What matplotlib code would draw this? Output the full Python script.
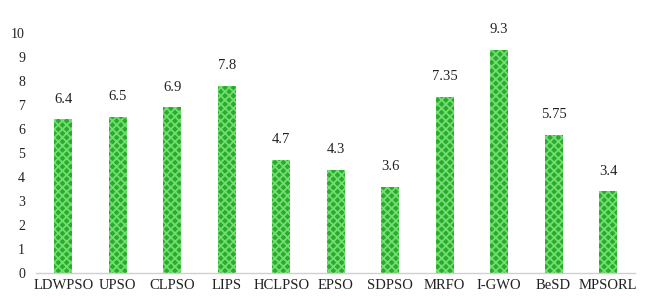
import matplotlib
matplotlib.use("Agg")
import matplotlib.pyplot as plt

categories = ["LDWPSO", "UPSO", "CLPSO", "LIPS", "HCLPSO", "EPSO", "SDPSO", "MRFO", "I-GWO", "BeSD", "MPSORL"]
values = [6.4, 6.5, 6.9, 7.8, 4.7, 4.3, 3.6, 7.35, 9.3, 5.75, 3.4]
value_labels = ["6.4", "6.5", "6.9", "7.8", "4.7", "4.3", "3.6", "7.35", "9.3", "5.75", "3.4"]
yticks = list(range(0, 11))

plt.rcParams['font.family'] = ['Liberation Serif', 'DejaVu Serif']
plt.rcParams['hatch.linewidth'] = 1.3

fig = plt.figure(figsize=(6.45, 3.01), dpi=100)
ax = fig.add_axes([0.056, 0.093, 0.929, 0.797])

x = range(len(categories))
bars = ax.bar(x, values, width=0.33, color='#28ad28', edgecolor='#74dc74',
              linewidth=0, hatch='xxxx')
for xi, v, lab in zip(x, values, value_labels):
    ax.annotate(lab, (xi, v), xytext=(0, 10), textcoords='offset points',
                ha='center', va='bottom', fontsize=10.5, color='#222222')

ax.set_xlim(-0.5, len(categories) - 0.5)
ax.set_ylim(0, 10)
ax.set_yticks(yticks)
ax.set_xticks(list(x))
ax.set_xticklabels(categories, fontsize=10.5, color='#222222')
ax.tick_params(axis='y', labelsize=10, labelcolor='#222222', length=0, pad=8)
ax.tick_params(axis='x', length=0, pad=4)
for s in ['top', 'right', 'left']:
    ax.spines[s].set_visible(False)
ax.spines['bottom'].set_color('#d0d0d0')
ax.spines['bottom'].set_linewidth(1)

fig.savefig("out.png", dpi=100)
